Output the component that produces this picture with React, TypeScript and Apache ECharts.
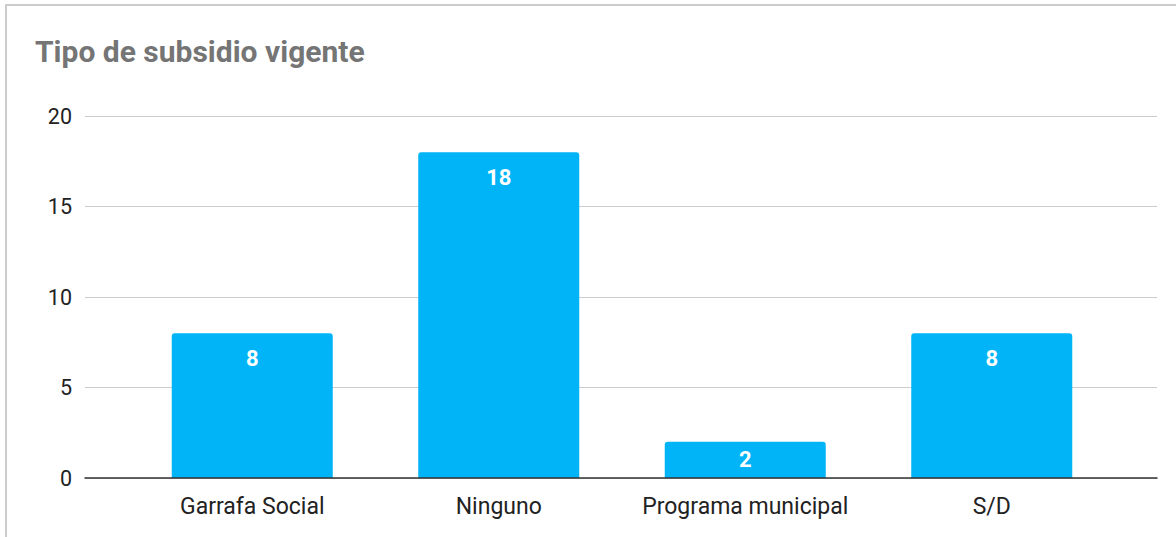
import React, { useEffect, useRef } from "react";
import * as echarts from "echarts";

const title = "Tipo de subsidio vigente";
const categories = ["Garrafa Social", "Ninguno", "Programa municipal", "S/D"];
const values = [8, 18, 2, 8];
const yTicks = [0, 5, 10, 15, 20];

export default function App() {
  const ref = useRef<HTMLDivElement>(null);
  useEffect(() => {
    if (!ref.current) return;
    const chart = echarts.init(ref.current, null, { renderer: "svg" });
    const font = "Roboto, 'Noto Sans', Arial, sans-serif";
    chart.setOption({
      animation: false,
      backgroundColor: "#ffffff",
      title: {
        text: title,
        left: 30,
        top: 31,
        textStyle: { fontFamily: font, fontSize: 30, fontWeight: "bold", color: "#757575" },
      },
      graphic: [
        {
          type: "rect",
          shape: { x: 6, y: 5, width: 1200, height: 600 },
          style: { fill: "none", stroke: "#cccccc", lineWidth: 2 },
          silent: true,
        },
      ],
      grid: [
        { left: 85, right: 19, top: 116, bottom: 59 },
        { left: 129, right: 61, top: 116, bottom: 59 },
      ],
      xAxis: [
        {
          type: "category",
          gridIndex: 0,
          data: categories,
          axisLine: { show: true, lineStyle: { color: "#333333", width: 1.5 } },
          axisTick: { show: false },
          axisLabel: { show: false },
          z: 5,
        },
        {
          type: "category",
          gridIndex: 1,
          data: categories,
          axisLine: { show: false },
          axisTick: { show: false },
          axisLabel: { interval: 0, fontFamily: font, fontSize: 23, color: "#222222", margin: 17 },
        },
      ],
      yAxis: [
        {
          type: "value",
          gridIndex: 0,
          min: yTicks[0],
          max: yTicks[yTicks.length - 1],
          interval: 5,
          axisLine: { show: false },
          axisTick: { show: false },
          axisLabel: { fontFamily: font, fontSize: 21.5, color: "#222222", margin: 13 },
          splitLine: { lineStyle: { color: "#cccccc", width: 1 } },
        },
        {
          type: "value",
          gridIndex: 1,
          min: yTicks[0],
          max: yTicks[yTicks.length - 1],
          interval: 5,
          show: false,
          splitLine: { show: false },
        },
      ],
      series: [
        {
          type: "bar",
          xAxisIndex: 1,
          yAxisIndex: 1,
          data: values.map((v) =>
            v < 3 ? { value: v, label: { position: "inside" } } : v
          ),
          barWidth: 161,
          itemStyle: { color: "#00b4f7", borderRadius: [3, 3, 0, 0] },
          label: {
            show: true,
            position: "insideTop",
            distance: 14,
            fontFamily: font,
            fontSize: 22,
            fontWeight: "bold",
            color: "#ffffff",
          },
          z: 3,
        },
      ],
    });
    return () => chart.dispose();
  }, []);
  return (
    <div
      ref={ref}
      style={{ position: "fixed", left: 0, top: 0, width: 1176, height: 537 }}
    />
  );
}
